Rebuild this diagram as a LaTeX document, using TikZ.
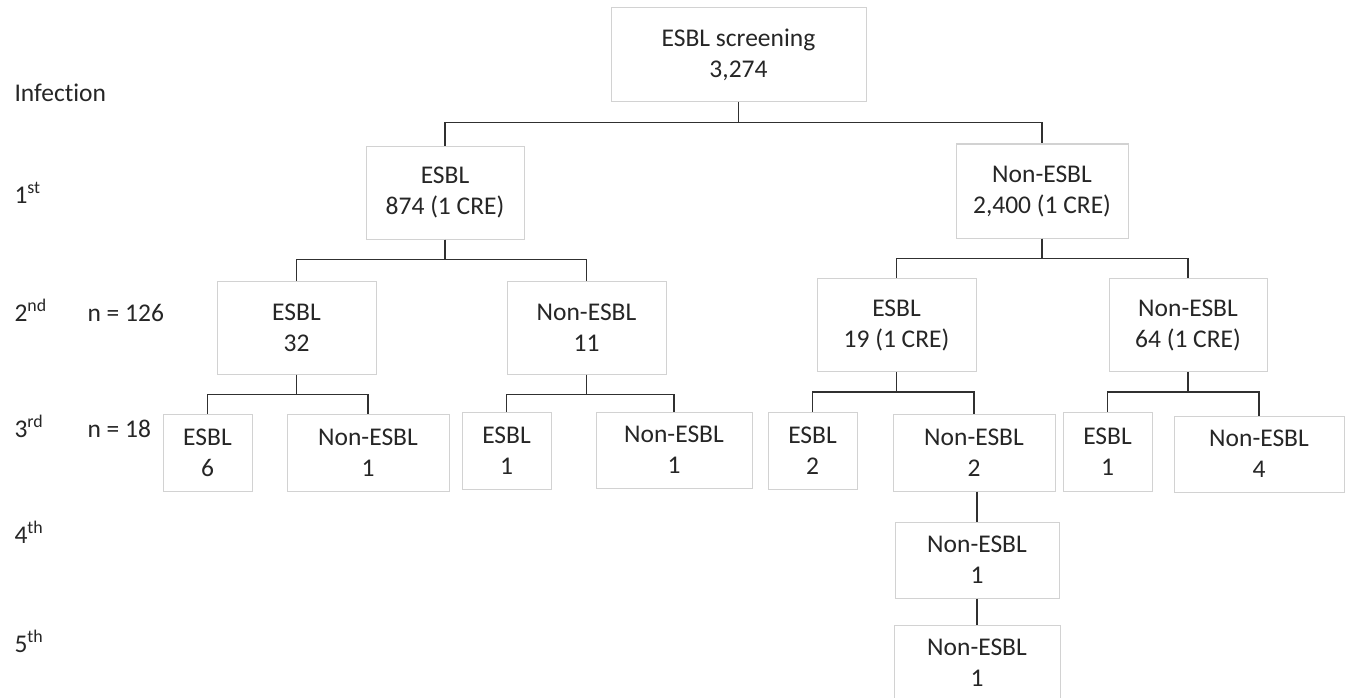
\documentclass[tikz,border=0pt]{standalone}
\usepackage{fontspec}
\setmainfont{Carlito}[Ligatures = NoCommon]
\definecolor{boxgray}{HTML}{D2D2D2}
\definecolor{linegray}{HTML}{303030}
\definecolor{textgray}{HTML}{262626}

\begin{document}
\begin{tikzpicture}[x = 1pt, y = -1pt,
    every node/.style = {text = textgray, font = \fontsize{25.5}{31}\selectfont},
    box/.style = {draw = boxgray, line width = 1pt, align = center, inner sep = 0pt},
    wide/.style = {box, minimum width = 159pt, minimum height = 93pt},
    small/.style = {box, minimum width = 89pt, minimum height = 77pt},
    level/.style = {anchor = base west},
    link/.style = {draw = linegray, line width = 1.3pt}]
    \fill [white, use as bounding box] (0,0) rectangle (1346,698);
    % levels on the left
    \node [level] (L0) at (11,102) {Infection};
    \node [level] (L1) at (11,203) {1\textsuperscript{st}};
    \node [level] (L2) at (11,321) {2\textsuperscript{nd}};
    \node [level] (C2) at (84,321) {n = 126};
    \node [level] (L3) at (11,437) {3\textsuperscript{rd}};
    \node [level] (C3) at (84,437) {n = 18};
    \node [level] (L4) at (11,543) {4\textsuperscript{th}};
    \node [level] (L5) at (11,652) {5\textsuperscript{th}};
    % boxes
    \node [box, minimum width = 255pt, minimum height = 94pt] (S) at (738.5,55) {ESBL screening\\3,274};
    \node [wide, minimum width = 158pt] (E) at (445,192.5) {ESBL\\874 (1 CRE)};
    \node [wide, minimum width = 172pt, minimum height = 94pt] (N) at (1042,191) {Non-ESBL\\2,400 (1 CRE)};
    \node [wide] (EE) at (296.5,327.5) {ESBL\\32};
    \node [wide] (EN) at (586.5,327.5) {Non-ESBL\\11};
    \node [wide] (NE) at (896.5,325) {ESBL\\19 (1 CRE)};
    \node [wide, minimum width = 158pt] (NN) at (1188,325) {Non-ESBL\\64 (1 CRE)};
    \node [small] (EEE) at (207.5,452.5) {ESBL\\6};
    \node [small, minimum width = 162pt] (EEN) at (368,452.5) {Non-ESBL\\1};
    \node [small] (ENE) at (506.5,451) {ESBL\\1};
    \node [small, minimum width = 156pt, minimum height = 76pt] (ENN) at (674,450) {Non-ESBL\\1};
    \node [small] (NEE) at (812.5,450.5) {ESBL\\2};
    \node [small, minimum width = 162pt] (NEN) at (974,452.5) {Non-ESBL\\2};
    \node [small, minimum height = 79pt] (NNE) at (1107.5,451.5) {ESBL\\1};
    \node [small, minimum width = 170pt, minimum height = 76pt] (NNN) at (1259,454) {Non-ESBL\\4};
    \node [small, minimum width = 164pt, minimum height = 76pt] (NENN) at (977,560) {Non-ESBL\\1};
    \node [small, minimum width = 166pt, minimum height = 76pt] (NENNN) at (977,663) {Non-ESBL\\1};
    % connectors
    \foreach \p/\c in {S/E, S/N, E/EE, E/EN, N/NE, N/NN, EE/EEE, EE/EEN,
                       EN/ENE, EN/ENN, NE/NEE, NE/NEN, NN/NNE, NN/NNN}
        \draw [link] (\p.south) -- ++(0,20) -| (\c.north);
    \draw [link] (NEN.south -| NENN.north) -- (NENN.north);
    \draw [link] (NENN.south) -- (NENNN.north);
\end{tikzpicture}
\end{document}
